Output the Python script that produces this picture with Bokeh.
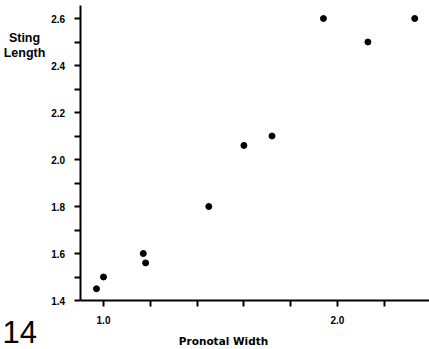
from bokeh.plotting import figure
from bokeh.models import Range1d, FixedTicker, Label, PrintfTickFormatter
from bokeh.embed import file_html
from bokeh.resources import INLINE

# data
pronotal_width = [0.97, 1.00, 1.17, 1.18, 1.45, 1.60, 1.72, 1.94, 2.13, 2.33]
sting_length = [1.45, 1.50, 1.60, 1.56, 1.80, 2.06, 2.10, 2.60, 2.50, 2.60]
x_major = [1.0, 2.0]
x_minor = [1.2, 1.4, 1.6, 1.8, 2.2]
y_major = [1.4, 1.6, 1.8, 2.0, 2.2, 2.4, 2.6]
y_minor = [1.5, 1.7, 1.9, 2.1, 2.3, 2.5]
x_axis_start = 0.90
y_axis_start = 1.4

p = figure(width=429, height=349, output_backend="svg", toolbar_location=None,
           x_range=Range1d(0.5598, 2.3932), y_range=Range1d(1.1915, 2.6766),
           min_border_left=0, min_border_right=0, min_border_top=0,
           min_border_bottom=0)
p.outline_line_color = None
p.xgrid.visible = False
p.ygrid.visible = False
p.background_fill_color = "white"

tick_font = "Liberation Sans"
for ax in (p.xaxis[0], p.yaxis[0]):
    ax.axis_line_width = 2
    ax.axis_line_color = "black"
    ax.major_tick_line_width = 2
    ax.minor_tick_line_width = 2
    ax.major_tick_in = 0
    ax.minor_tick_in = 0
    ax.major_tick_out = 6
    ax.minor_tick_out = 6
    ax.major_tick_line_color = "black"
    ax.minor_tick_line_color = "black"
    ax.major_label_text_font = tick_font
    ax.major_label_text_font_style = "bold"
    ax.major_label_text_font_size = "10px"
    ax.major_label_text_color = "black"
    ax.major_label_standoff = 9
    ax.formatter = PrintfTickFormatter(format="%.1f")

p.xaxis[0].ticker = FixedTicker(ticks=x_major, minor_ticks=x_minor)
p.yaxis[0].ticker = FixedTicker(ticks=y_major, minor_ticks=y_minor)
p.xaxis[0].fixed_location = y_axis_start
p.yaxis[0].fixed_location = x_axis_start
p.xaxis[0].bounds = (x_axis_start, 2.3932)
p.yaxis[0].bounds = (y_axis_start, 2.655)

p.scatter(pronotal_width, sting_length, size=6, color="black")

p.add_layout(Label(x=24, y=312, x_units="screen", y_units="screen", text="Sting",
                   text_font=tick_font, text_font_style="bold", text_font_size="12.5px",
                   text_align="center", text_baseline="alphabetic", text_color="black"))
p.add_layout(Label(x=24, y=297, x_units="screen", y_units="screen", text="Length",
                   text_font=tick_font, text_font_style="bold", text_font_size="12.5px",
                   text_align="center", text_baseline="alphabetic", text_color="black"))
p.add_layout(Label(x=223, y=9, x_units="screen", y_units="screen", text="Pronotal Width",
                   text_font="DejaVu Sans", text_font_style="bold", text_font_size="10.5px",
                   text_align="center", text_baseline="alphabetic", text_color="black"))
p.add_layout(Label(x=2, y=18, x_units="screen", y_units="screen", text="14",
                   text_font="Liberation Sans", text_font_size="31px",
                   text_align="left", text_baseline="alphabetic", text_color="black"))

open("out.html", "w").write(file_html(p, INLINE))
